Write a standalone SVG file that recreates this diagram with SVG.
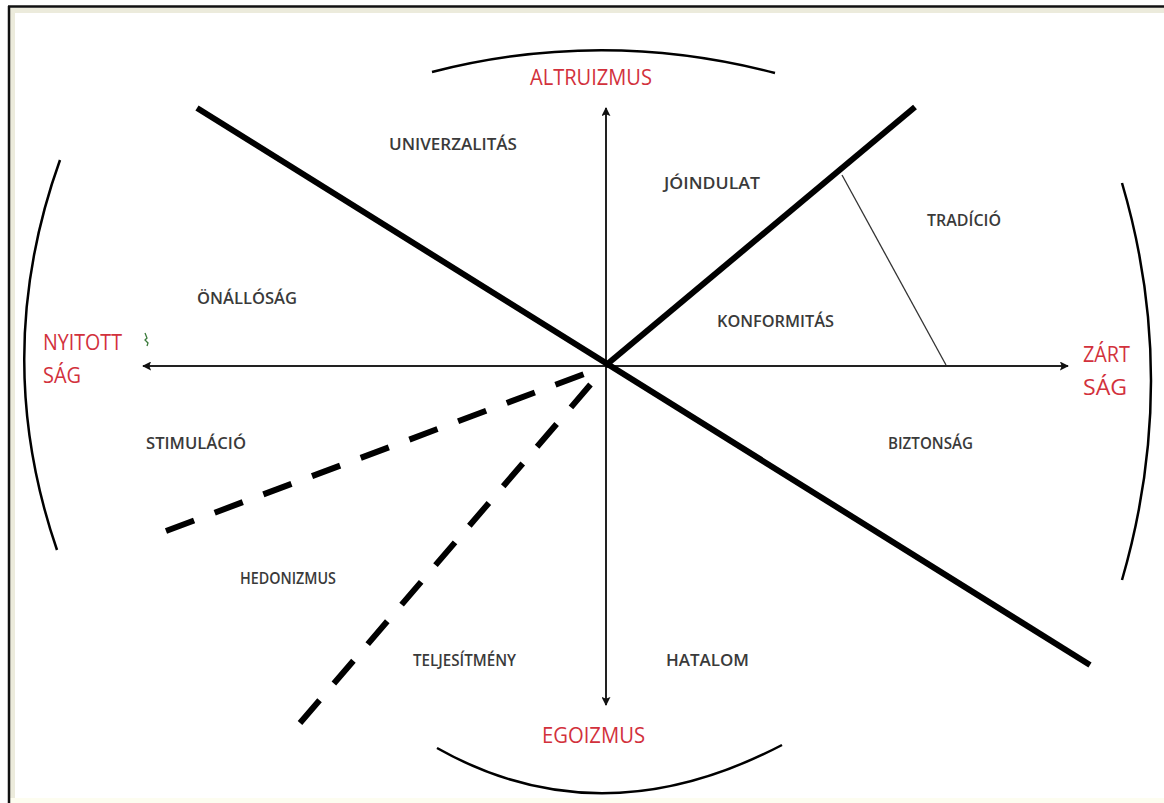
<svg xmlns="http://www.w3.org/2000/svg" width="1164" height="803" viewBox="0 0 1164 803">
<defs>
<marker id="ah" viewBox="0 0 10 10" refX="9" refY="5" markerWidth="9" markerHeight="9" markerUnits="userSpaceOnUse" orient="auto-start-reverse">
<path d="M0,0 L10,5 L0,10 L2,5 z" fill="#111"/>
</marker>
<style>
.lbl{font-family:"Open Sans","Liberation Sans",sans-serif;font-size:16px;font-weight:600;fill:#3a3a3a}
.red{font-family:"Open Sans","Liberation Sans",sans-serif;font-size:21px;fill:#d2313c}
.thick{stroke:#000;stroke-width:6;fill:none}
.dash{stroke:#000;stroke-width:6;fill:none;stroke-dasharray:30,22}
.arc{stroke:#000;stroke-width:2.5;fill:none}
.axis{stroke:#222;stroke-width:2;fill:none}
</style>
</defs>
<rect width="1164" height="803" fill="#fff"/>
<rect x="10" y="8" width="1154" height="5" fill="#ecebdc"/>
<rect x="10" y="8" width="5" height="795" fill="#ecebdc"/>
<rect x="10" y="798" width="1154" height="5" fill="#fdfdf0"/>
<line x1="8" y1="6.5" x2="1164" y2="6.5" stroke="#111" stroke-width="2.5"/>
<line x1="9" y1="6" x2="9" y2="803" stroke="#111" stroke-width="2.5"/>

<g id="connectors">
<path class="arc" d="M432,72 Q603,28 775,73"/>
<path class="arc" d="M437,748 Q600,840 782,745"/>
<path class="arc" d="M60,160 Q-10,355 57,550"/>
<path class="arc" d="M1122,183 Q1180,380 1122,580"/>
<line class="axis" x1="606" y1="366" x2="143" y2="366" marker-end="url(#ah)"/>
<line class="axis" x1="606" y1="366" x2="1068" y2="366" marker-end="url(#ah)"/>
<line class="axis" x1="606" y1="366" x2="606" y2="108" marker-end="url(#ah)" stroke-width="1.6"/>
<line class="axis" x1="606" y1="366" x2="606" y2="705" marker-end="url(#ah)" stroke-width="1.6"/>
<line class="thick" x1="197" y1="108" x2="1090" y2="665"/>
<line class="thick" x1="605" y1="366" x2="915" y2="107"/>
<line x1="842" y1="175" x2="946" y2="365" stroke="#333" stroke-width="1.3"/>
<line class="dash" x1="166" y1="531" x2="592" y2="371"/>
<line class="dash" x1="300" y1="723" x2="603" y2="370"/>
<path d="M145,333 l2,5 l-2,2 l3,3 l-1,3" stroke="#3a7a3a" stroke-width="1.3" fill="none"/>
</g>

<g id="altruizmus"><text class="red" x="530" y="85" font-size="19" textLength="122" lengthAdjust="spacingAndGlyphs">ALTRUIZMUS</text></g>
<g id="egoizmus"><text class="red" x="542" y="743" textLength="103" lengthAdjust="spacingAndGlyphs">EGOIZMUS</text></g>
<g id="nyitottsag"><text class="red" x="43" y="350" textLength="79" lengthAdjust="spacingAndGlyphs">NYITOTT</text><text class="red" x="43" y="383" textLength="38" lengthAdjust="spacingAndGlyphs">SÁG</text></g>
<g id="zartsag"><text class="red" x="1083" y="362" textLength="47" lengthAdjust="spacingAndGlyphs">ZÁRT</text><text class="red" x="1083" y="395" textLength="44" lengthAdjust="spacingAndGlyphs">SÁG</text></g>

<g id="univerzalitas"><text class="lbl" x="389" y="150" textLength="128" lengthAdjust="spacingAndGlyphs">UNIVERZALITÁS</text></g>
<g id="joindulat"><text class="lbl" x="664" y="189" textLength="96" lengthAdjust="spacingAndGlyphs">JÓINDULAT</text></g>
<g id="tradicio"><text class="lbl" x="927" y="226" textLength="74" lengthAdjust="spacingAndGlyphs">TRADÍCIÓ</text></g>
<g id="onallosag"><text class="lbl" x="197" y="304" textLength="100" lengthAdjust="spacingAndGlyphs">ÖNÁLLÓSÁG</text></g>
<g id="konformitas"><text class="lbl" x="717" y="327" textLength="117" lengthAdjust="spacingAndGlyphs">KONFORMITÁS</text></g>
<g id="stimulacio"><text class="lbl" x="146" y="449" textLength="100" lengthAdjust="spacingAndGlyphs">STIMULÁCIÓ</text></g>
<g id="biztonsag"><text class="lbl" x="888" y="449" textLength="85" lengthAdjust="spacingAndGlyphs">BIZTONSÁG</text></g>
<g id="hedonizmus"><text class="lbl" x="240" y="584" textLength="96" lengthAdjust="spacingAndGlyphs">HEDONIZMUS</text></g>
<g id="teljesitmeny"><text class="lbl" x="413" y="666" textLength="103" lengthAdjust="spacingAndGlyphs">TELJESÍTMÉNY</text></g>
<g id="hatalom"><text class="lbl" x="666" y="666" textLength="83" lengthAdjust="spacingAndGlyphs">HATALOM</text></g>
</svg>
